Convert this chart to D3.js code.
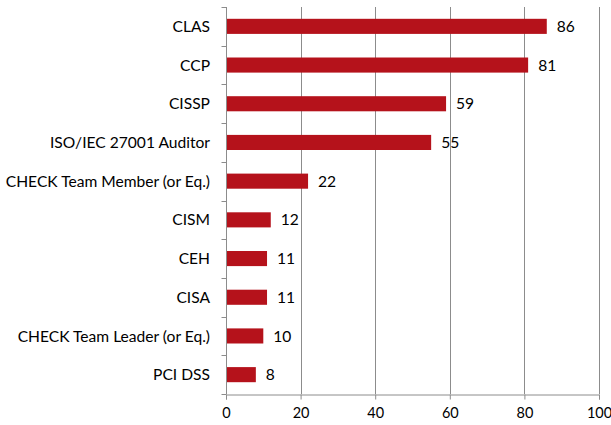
<!DOCTYPE html>
<html>
<head>
<meta charset="utf-8">
<script src="https://cdn.jsdelivr.net/npm/d3@7"></script>
<style>
  body { margin: 0; background: #fff; }
  text { font-family: Lato, "Open Sans", sans-serif; fill: #000; }
</style>
</head>
<body>
<div id="chart"></div>
<script>
// data
var categories = ["CLAS", "CCP", "CISSP", "ISO/IEC 27001 Auditor", "CHECK Team Member (or Eq.)",
                  "CISM", "CEH", "CISA", "CHECK Team Leader (or Eq.)", "PCI DSS"];
var values = [86, 81, 59, 55, 22, 12, 11, 11, 10, 8];
var xTicks = [0, 20, 40, 60, 80, 100];

var w = 611, h = 425;
var plotLeft = 226, plotRight = 599, plotTop = 7, plotBottom = 394;
var fontSize = "15.6px";

var svg = d3.select("#chart").append("svg")
    .attr("width", w)
    .attr("height", h);

var x = d3.scaleLinear().domain([0, 100]).range([plotLeft, plotRight]);
var y = d3.scaleBand().domain(categories).range([plotTop, plotBottom]).paddingInner(0.61).paddingOuter(0.305);

// vertical gridlines
svg.selectAll(".grid")
    .data(xTicks.slice(1))
    .enter().append("line")
    .attr("class", "grid")
    .attr("x1", function(d) { return Math.round(x(d)) + 0.5; })
    .attr("x2", function(d) { return Math.round(x(d)) + 0.5; })
    .attr("y1", plotTop)
    .attr("y2", plotBottom)
    .attr("stroke", "#8c8c8c")
    .attr("stroke-width", 1);

// bars
svg.selectAll(".bar")
    .data(values)
    .enter().append("rect")
    .attr("class", "bar")
    .attr("x", x(0))
    .attr("y", function(d, i) { return y(categories[i]); })
    .attr("width", function(d) { return x(d) - x(0); })
    .attr("height", y.bandwidth())
    .attr("fill", "#b5121b");

// value labels
svg.selectAll(".val")
    .data(values)
    .enter().append("text")
    .attr("class", "val")
    .attr("x", function(d) { return x(d) + 10; })
    .attr("y", function(d, i) { return y(categories[i]) + y.bandwidth() / 2; })
    .attr("dy", "0.36em")
    .attr("font-size", fontSize)
    .text(function(d) { return d; });

// left axis
var yAxis = svg.append("g")
    .attr("transform", "translate(" + (plotLeft + 0.5) + ",0)");
yAxis.append("line")
    .attr("x1", 0).attr("x2", 0)
    .attr("y1", plotTop).attr("y2", plotBottom)
    .attr("stroke", "#8c8c8c");
var bounds = d3.range(categories.length + 1).map(function(i) { return plotTop + i * y.step(); });
yAxis.selectAll(".ytick")
    .data(bounds)
    .enter().append("line")
    .attr("x1", -5).attr("x2", 0)
    .attr("y1", function(d) { return Math.round(d) + 0.5; })
    .attr("y2", function(d) { return Math.round(d) + 0.5; })
    .attr("stroke", "#8c8c8c");
svg.selectAll(".cat")
    .data(categories)
    .enter().append("text")
    .attr("class", "cat")
    .attr("x", plotLeft - 16)
    .attr("y", function(d) { return y(d) + y.bandwidth() / 2; })
    .attr("dy", "0.36em")
    .attr("text-anchor", "end")
    .attr("font-size", fontSize)
    .text(function(d) { return d; });

// bottom axis
var xAxis = d3.axisBottom(x).tickValues(xTicks).tickSize(5).tickPadding(8);
var gx = svg.append("g")
    .attr("transform", "translate(0," + (plotBottom + 0.5) + ")")
    .call(xAxis);
gx.select(".domain").attr("stroke", "#8c8c8c");
gx.selectAll(".tick line").attr("stroke", "#8c8c8c");
gx.selectAll(".tick text")
    .attr("font-size", "14.5px")
    .attr("font-family", "Lato, 'Open Sans', sans-serif")
    .attr("fill", "#000");
</script>
</body>
</html>
